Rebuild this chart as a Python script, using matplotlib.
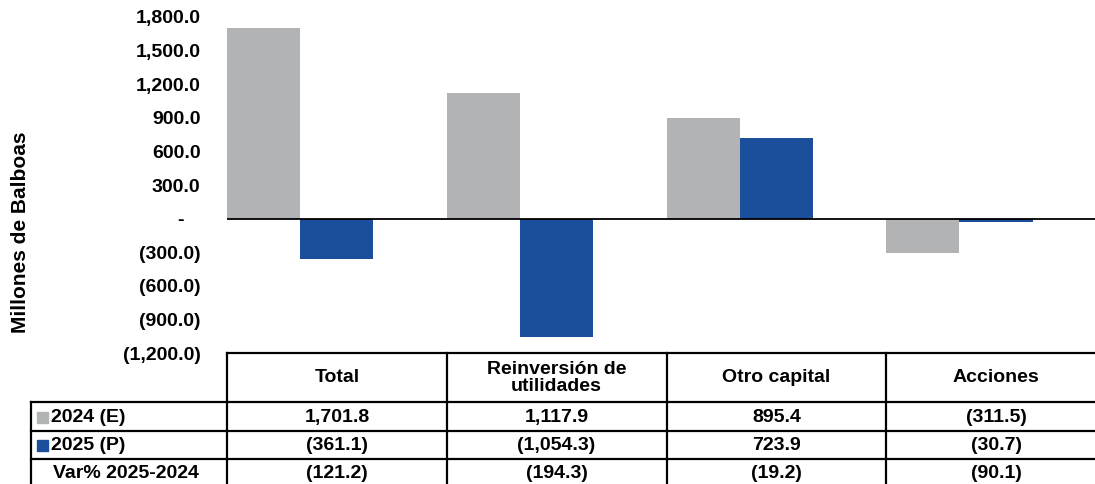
import numpy as np
import matplotlib
matplotlib.use("Agg")
import matplotlib.pyplot as plt
from matplotlib.ticker import FuncFormatter

plt.rcParams['font.family'] = ['Liberation Sans', 'DejaVu Sans']
plt.rcParams['font.weight'] = 'bold'

# data
categorias = ["Total", "Reinversión de\nutilidades", "Otro capital", "Acciones"]
serie_2024 = [1701.8, 1117.9, 895.4, -311.5]
serie_2025 = [-361.1, -1054.3, 723.9, -30.7]
var_pct = [-121.2, -194.3, -19.2, -90.1]
filas = ["2024 (E)", "2025 (P)", "Var% 2025-2024"]
yticks = [-1200, -900, -600, -300, 0, 300, 600, 900, 1200, 1500, 1800]

c_gris = "#B2B3B5"
c_azul = "#1B4E9B"

def fmt(v, pos=None):
    if abs(v) < 1e-9:
        return "-   "
    s = f"{abs(v):,.1f}"
    return f"({s})" if v < 0 else s

W, H = 1095, 484
fig = plt.figure(figsize=(W / 100, H / 100), dpi=100)

left, right = 227, 1106
top, bot = 17, 353
ax = fig.add_axes([left / W, 1 - bot / H, (right - left) / W, (bot - top) / H])

x = np.arange(len(categorias))
bw = 0.333
ax.bar(x - 0.5, serie_2024, width=bw, align='edge', color=c_gris)
ax.bar(x - 0.5 + bw, serie_2025, width=bw, align='edge', color=c_azul)
ax.axhline(0, color='black', lw=1.3)
ax.set_xlim(-0.5, 3.5)
ax.set_ylim(-1200, 1800)
ax.set_yticks(yticks)
ax.yaxis.set_major_formatter(FuncFormatter(fmt))
ax.tick_params(axis='y', length=0, pad=19, labelsize=14)
ax.set_xticks([])
for s in ax.spines.values():
    s.set_visible(False)

fig.text(21 / W, 1 - 232 / H, "Millones de Balboas", rotation=90,
         ha='center', va='center', fontsize=15, fontweight='bold')

# table below the chart (y in pixels from the table top)
th = H - bot
ax_t = fig.add_axes([left / W, 0, (right - left) / W, th / H])
ax_t.set_xlim(-0.5, 3.5)
ax_t.set_ylim(th, 0)
ax_t.axis('off')

ux = (right - left) / 4
xl = -0.5 - (left - 31) / ux
rows_y = [0, 49, 78, 106, 134]
lw = 1.6
ax_t.plot([-0.5, 3.5], [0, 0], color='black', lw=lw, clip_on=False)
for yy in rows_y[1:]:
    ax_t.plot([xl, 3.5], [yy, yy], color='black', lw=lw, clip_on=False)
for xx in np.arange(-0.5, 4.0, 1.0):
    ax_t.plot([xx, xx], [0, rows_y[-1]], color='black', lw=lw, clip_on=False)
ax_t.plot([xl, xl], [rows_y[1], rows_y[-1]], color='black', lw=lw, clip_on=False)

for i, c in enumerate(categorias):
    ax_t.text(i, 25, c, ha='center', va='center', fontsize=14,
              fontweight='bold', linespacing=0.95)

valores = [serie_2024, serie_2025, var_pct]
for r, vals in enumerate(valores):
    yc = (rows_y[r + 1] + rows_y[r + 2]) / 2
    for i, v in enumerate(vals):
        ax_t.text(i, yc + 1, fmt(v), ha='center', va='center', fontsize=14,
                  fontweight='bold')

colores = [c_gris, c_azul, None]
for r, lab in enumerate(filas):
    yc = (rows_y[r + 1] + rows_y[r + 2]) / 2
    if colores[r] is not None:
        ax_t.add_patch(plt.Rectangle((xl + 6 / ux, yc - 5), 11 / ux, 11,
                                     color=colores[r], clip_on=False))
        ax_t.text(xl + 20 / ux, yc + 1, lab, ha='left', va='center',
                  fontsize=14, fontweight='bold')
    else:
        ax_t.text(xl + 22 / ux, yc + 1, lab, ha='left', va='center',
                  fontsize=14, fontweight='bold')

fig.savefig("out.png", dpi=100)
